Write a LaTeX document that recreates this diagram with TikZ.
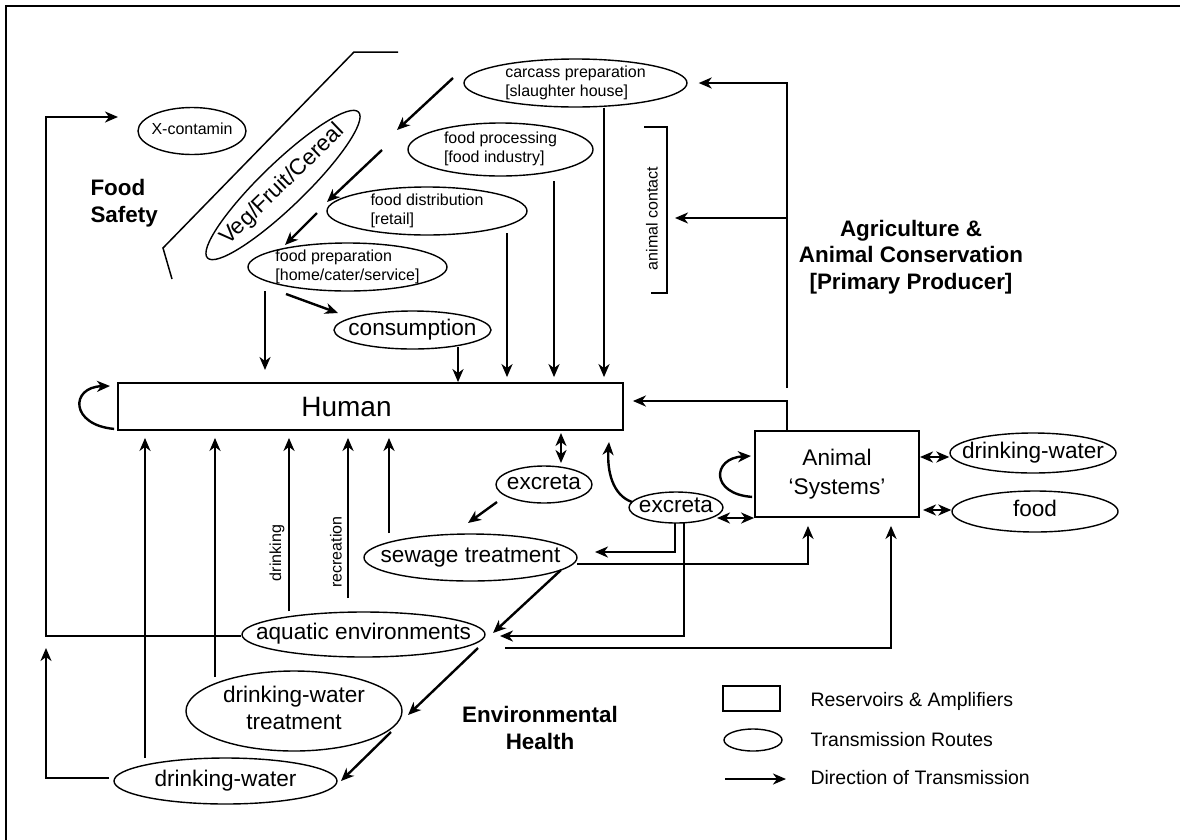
\documentclass[tikz,border=0pt]{standalone}
\usepackage{fontspec}
\setmainfont{Liberation Sans}
\usetikzlibrary{shapes.geometric,arrows.meta,calc}

\newcommand{\bigfont}{\fontsize{22.6}{27}\selectfont}
\newcommand{\smallfont}{\fontsize{16}{19}\selectfont}
% text of fixed-size ellipses (box of zero size, centred)
\newcommand{\elltext}[2][l]{\smash{\makebox[0pt]{\raisebox{\dimexpr(\depth-\height)/2\relax}{\begin{tabular}{@{}#1@{}}#2\end{tabular}}}}}

\begin{document}
\begin{tikzpicture}[
    x=1pt, y=-1pt,
    zoonRoute/.style={ellipse, draw, line width=1.4pt, inner sep=0pt, font=\bigfont},
    zoonRouteSmall/.style={zoonRoute, font=\smallfont},
    zoonReservoir/.style={draw, line width=1.8pt, inner sep=0pt},
    zoonFlow/.style={line width=2.4pt},
    zoonArea/.style={font=\bfseries\fontsize{22.4}{26.5}\selectfont, align=center},
    zoonSide/.style={font=\smallfont, rotate=90},
    zoonLegend/.style={font=\fontsize{19.5}{23}\selectfont, anchor=west},
    >={Stealth[length=13pt, width=11pt, inset=4pt]}
]
    \useasboundingbox (0,0) rectangle (1180,839);
    \clip (0,0) rectangle (1180,839);

    % 外框
    \draw[line width=2pt] (6,860) -- (6,6) -- (1190,6);

    % 区域名称
    \node[zoonArea, align=left, anchor=west] (foodSafety) at (87,203) {Food\\Safety};
    \node[zoonArea] (agri) at (911,257) {Agriculture \&\\Animal Conservation\\{[}Primary Producer]};
    \node[zoonArea] (envHealth) at (540,728) {Environmental\\Health};

    % 储存宿主
    \node[zoonReservoir, minimum width=505pt, minimum height=47pt,
        font=\fontsize{28}{32}\selectfont] (hum) at (370.5,406.5) {Human\hspace*{48pt}};
    \node[zoonReservoir, minimum width=164pt, minimum height=86pt, align=center,
        font=\fontsize{22.6}{29}\selectfont] (ani) at (837,474) {Animal\\‘Systems’};

    % 食物链
    \draw[line width=1.5pt] (398,52) -- (354,52) -- (163,248) -- (172,279);
    \node[zoonRouteSmall, minimum width=108pt, minimum height=47pt] (xcon) at (192,131) {\elltext{X-contamin}};
    \node[zoonRoute, rotate=44, minimum width=210pt, minimum height=44pt] (veg) at (283,185) {\elltext{Veg/Fruit/Cereal}};
    \node[zoonRouteSmall, minimum width=223pt, minimum height=48pt] (carc) at (575.5,83) {\elltext{carcass preparation\\{[}slaughter house]}};
    \node[zoonRouteSmall, minimum width=185pt, minimum height=53pt] (proc) at (500.5,149.5) {\elltext{food processing\\{[}food industry]}};
    \node[zoonRouteSmall, minimum width=200pt, minimum height=48pt] (dist) at (427,211) {\elltext{food distribution\\{[}retail]}};
    \node[zoonRouteSmall, minimum width=199pt, minimum height=48pt] (prep) at (347.5,267) {\elltext{food preparation\\{[}home/cater/service]}};
    \node[zoonRoute, minimum width=157pt, minimum height=38pt] (cons) at (412.5,330) {\elltext{consumption}};

    \draw[zoonFlow,->] (453,78) -- (397,130);
    \draw[zoonFlow,->] (382,150) -- (327,202);
    \draw[zoonFlow,->] (317,213) -- (285,245);
    \draw[zoonFlow,->] (286,294) -- (338,313);
    \draw[zoonFlow,->] (265,291) -- (265,370);
    \draw[zoonFlow,->] (458,347) -- (458,0 |- hum.north);
    \draw[zoonFlow,->,shorten >=5pt] (507,233) -- (507,0 |- hum.north);
    \draw[zoonFlow,->,shorten >=5pt] (554,181) -- (554,0 |- hum.north);
    \draw[zoonFlow,->,shorten >=5pt] (carc.south -| 604,0) -- (604,0 |- hum.north);

    % 动物接触
    \draw[line width=1.5pt] (644,127) -- (667,127) -- (667,293) -- (651,293);
    \node[zoonSide] (lblContact) at (652,218.5) {animal contact};
    \draw[zoonFlow,->,shorten >=11pt] (787,388) -- (787,83) -- (carc.east);
    \draw[zoonFlow,->] (787,218) -- (675,218);
    \draw[zoonFlow,->,shorten >=9pt] (ani.north -| 787,0) -- (787,401) -- (hum.east |- 0,401);

    % 自身循环
    \draw[zoonFlow,->] ($(hum.south west)+(-3,-2)$) .. controls (70,425) and (70,387) .. (110,386);
    \draw[zoonFlow,->] ($(ani.south west)+(-2,-21)$) .. controls (710,494) and (712,458) .. (751,456);

    % 排泄物与污水
    \node[zoonRoute, minimum width=96pt, minimum height=37pt] (exh) at (544,484.5) {\elltext{excreta}};
    \node[zoonRoute, minimum width=94pt, minimum height=31pt] (exa) at (676,507.5) {\elltext{excreta}};
    \node[zoonRoute, minimum width=213pt, minimum height=47pt] (sew) at (470.5,557.5) {\elltext{sewage treatment}};
    \draw[zoonFlow,<->] (561,433) -- (561,463);
    \draw[zoonFlow,->] (497,502) -- (468,523);
    \draw[zoonFlow,->] (632,502) .. controls (612,495) and (607,470) .. (609,442);
    \draw[zoonFlow,<->] (717,518) -- (ani.west |- 0,518);
    \draw[zoonFlow,->] (675,523) -- (675,552) -- (595,552);
    \draw[zoonFlow,->] (684,523) -- (684,636) -- (500,636);
    \draw[zoonFlow,->,shorten >=8pt] (577,564) -- (808,564) -- (808,0 |- ani.south);
    \draw[zoonFlow,->] (561,570) -- (493,633);

    % 水环境
    \node[zoonRoute, minimum width=243pt, minimum height=45pt] (aqua) at (363.5,634.5) {\elltext{aquatic environments}};
    \node[zoonRoute, minimum width=216pt, minimum height=80pt] (dwt) at (294,711) {\elltext[c]{drinking-water\\treatment}};
    \node[zoonRoute, minimum width=223pt, minimum height=46pt] (dwb) at (225.5,781) {\elltext{drinking-water}};
    \draw[zoonFlow,->,shorten >=8pt] (505,648) -- (891,648) -- (891,0 |- ani.south);
    \draw[zoonFlow,->] (478,648) -- (408,715);
    \draw[zoonFlow,->] (391,732) -- (341,781);
    \draw[zoonFlow,->] (aqua.west |- 0,636) -- (46,636) -- (46,117) -- (118,117);
    \draw[line width=2pt,->] (109,778) -- (46,778) -- (46,648);

    % 到人
    \draw[zoonFlow,->,shorten >=7pt] (145,758) -- (145,0 |- hum.south);
    \draw[zoonFlow,->,shorten >=7pt] (215,677) -- (215,0 |- hum.south);
    \draw[zoonFlow,->,shorten >=7pt] (289,0 |- aqua.north) -- (289,0 |- hum.south);
    \draw[zoonFlow,->,shorten >=7pt] (348,598) -- (348,0 |- hum.south);
    \draw[zoonFlow,->,shorten >=7pt] (389,533) -- (389,0 |- hum.south);
    \node[zoonSide] (lblDrink) at (277,553) {drinking};
    \node[zoonSide] (lblRec) at (336,552) {recreation};

    % 动物饮水与饲料
    \node[zoonRoute, minimum width=166pt, minimum height=40pt] (dwr) at (1033,453) {\elltext{drinking-water}};
    \node[zoonRoute, minimum width=166pt, minimum height=41pt] (food) at (1035,511.5) {\elltext{food}};
    \draw[zoonFlow,<->] (920,457) -- (dwr.west |- 0,457);
    \draw[zoonFlow,<->] (923,510) -- (food.west |- 0,510);

    % 图例
    \node[zoonReservoir, minimum width=57pt, minimum height=25pt] (legBox) at (751.5,698.5) {};
    \node[ellipse, draw, line width=1.4pt, inner sep=0pt, minimum width=58pt, minimum height=22pt] (legRoute) at (753,740) {};
    \coordinate (legFrom) at (725,779);
    \coordinate (legTo) at (786,779);
    \draw[zoonFlow,->] (legFrom) -- (legTo);
    \node[zoonLegend] (legTxtBox) at (807,701) {Reservoirs \& Amplifiers};
    \node[zoonLegend] (legTxtRoute) at (807,740) {Transmission Routes};
    \node[zoonLegend] (legTxtFlow) at (807,778) {Direction of Transmission};
\end{tikzpicture}
\end{document}
